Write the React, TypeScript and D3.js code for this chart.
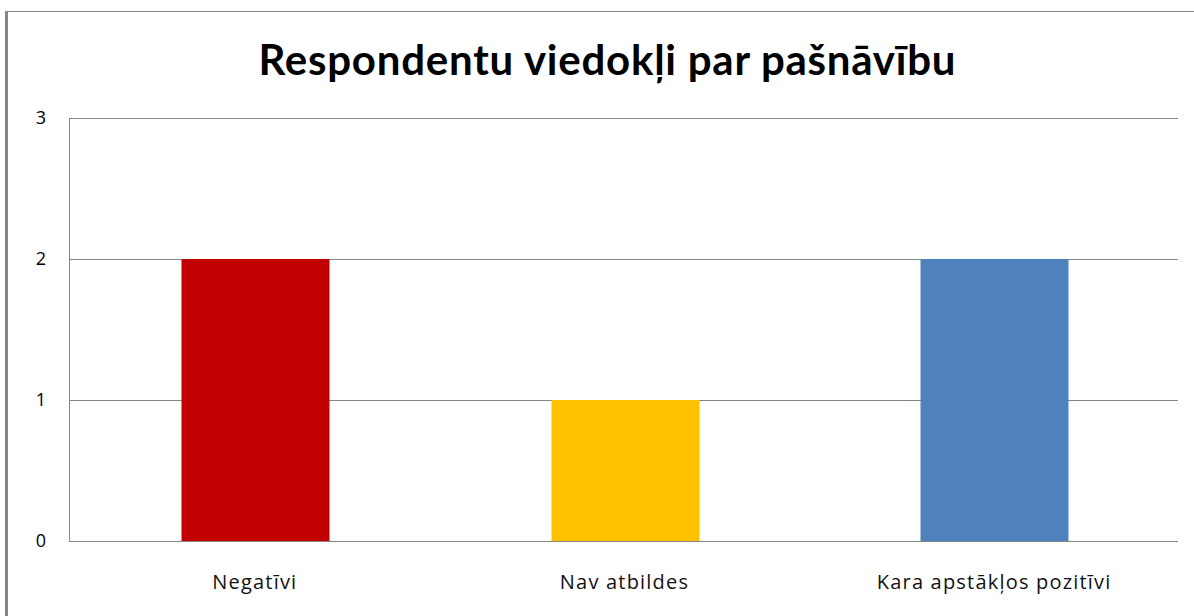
import React, { useRef, useEffect } from 'react'
import * as d3 from 'd3'

const categories = ['Negatīvi', 'Nav atbildes', 'Kara apstākļos pozitīvi']
const values = [2, 1, 2]
const colors = ['#C00000', '#FFC000', '#4F81BD']
const yTicks = [0, 1, 2, 3]
const title = 'Respondentu viedokļi par pašnāvību'

const W = 1194
const H = 616

const App: React.FC = () => {
  const svgRef = useRef<SVGSVGElement>(null)

  useEffect(() => {
    if (!svgRef.current) return
    const svg = d3.select(svgRef.current)
    svg.selectAll('*').remove()

    const left = 69
    const right = 1178
    const top = 118
    const bottom = 541

    // chart frame
    svg.append('rect')
      .attr('x', 6.5).attr('y', 11.5)
      .attr('width', W + 10).attr('height', H + 10)
      .attr('fill', '#fff')
      .attr('stroke', '#868686')
      .attr('stroke-width', 1)
    svg.append('line')
      .attr('x1', 6.5).attr('x2', 6.5).attr('y1', 11).attr('y2', H)
      .attr('stroke', '#868686').attr('stroke-width', 3)

    const x = d3.scaleBand<string>().domain(categories).range([left, right]).padding(0)
    const y = d3.scaleLinear().domain([0, 3]).range([bottom, top])

    // plot area + gridlines
    svg.append('line')
      .attr('x1', left + 0.5).attr('x2', left + 0.5)
      .attr('y1', top).attr('y2', bottom)
      .attr('stroke', '#868686')
    svg.selectAll('.grid')
      .data(yTicks)
      .join('line')
      .attr('class', 'grid')
      .attr('x1', left).attr('x2', right)
      .attr('y1', d => Math.round(y(d)) + 0.5)
      .attr('y2', d => Math.round(y(d)) + 0.5)
      .attr('stroke', '#868686')

    // bars
    const barW = Math.round(x.bandwidth() * 0.4)
    svg.selectAll('.bar')
      .data(values)
      .join('rect')
      .attr('class', 'bar')
      .attr('x', (d, i) => Math.round(x(categories[i])! + x.bandwidth() / 2 - barW / 2) + 1.5)
      .attr('width', barW)
      .attr('y', d => y(d))
      .attr('height', d => bottom - y(d))
      .attr('fill', (d, i) => colors[i])

    // y labels
    svg.selectAll('.ylab')
      .data(yTicks)
      .join('text')
      .attr('class', 'ylab')
      .attr('x', 46)
      .attr('y', d => y(d))
      .attr('dy', '0.35em')
      .attr('text-anchor', 'end')
      .attr('font-family', 'Open Sans, sans-serif')
      .attr('font-size', 18)
      .attr('fill', '#000')
      .text(d => d)

    // x labels
    svg.selectAll('.xlab')
      .data(categories)
      .join('text')
      .attr('class', 'xlab')
      .attr('x', d => x(d)! + x.bandwidth() / 2 + 1)
      .attr('y', 589)
      .attr('text-anchor', 'middle')
      .attr('font-family', 'Open Sans, sans-serif')
      .attr('font-size', 20)
      .attr('letter-spacing', 1.2)
      .attr('fill', '#111')
      .text(d => d)

    svg.append('text')
      .attr('x', 607)
      .attr('y', 75)
      .attr('text-anchor', 'middle')
      .attr('font-family', 'Lato, sans-serif')
      .attr('font-weight', 'bold')
      .attr('font-size', 42)
      .attr('textLength', 697)
      .attr('lengthAdjust', 'spacing')
      .attr('fill', '#000')
      .text(title)
  }, [])

  return (
    <svg
      ref={svgRef}
      width={W}
      height={H}
      style={{ position: 'absolute', left: 0, top: 0, background: '#fff' }}
    />
  )
}

export default App
